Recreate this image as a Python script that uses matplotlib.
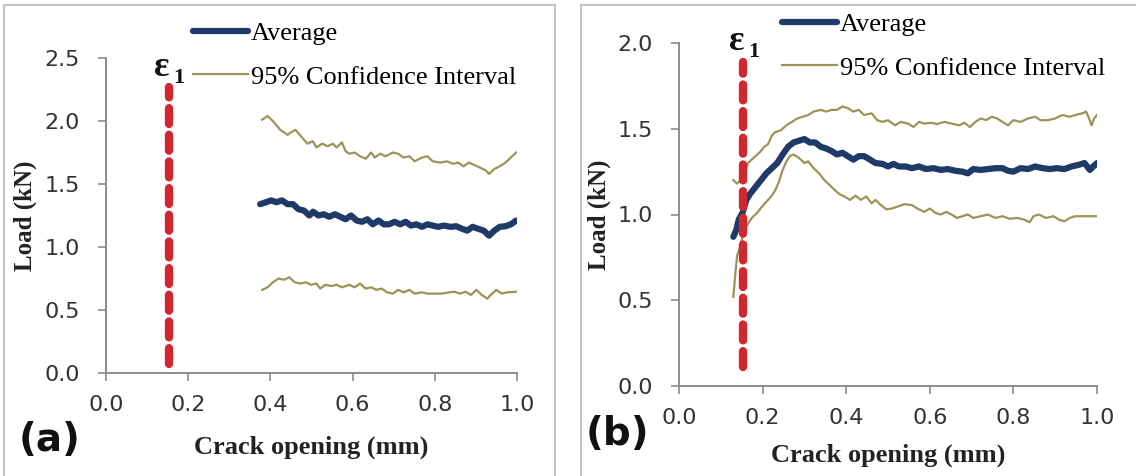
import matplotlib.pyplot as plt
from matplotlib.patches import Rectangle

# ---- Panel (a) data ----
a_avg_x = [0.375, 0.389, 0.402, 0.415, 0.428, 0.442, 0.455, 0.468, 0.481, 0.495, 0.504, 0.517, 0.53, 0.543,
           0.557, 0.57, 0.583, 0.596, 0.61, 0.623, 0.636, 0.649, 0.663, 0.676, 0.689, 0.702, 0.716, 0.729,
           0.742, 0.755, 0.769, 0.782, 0.795, 0.808, 0.822, 0.839, 0.852, 0.866, 0.879, 0.892, 0.905, 0.919,
           0.932, 0.945, 0.958, 0.972, 0.985, 0.998]
a_avg_y = [1.34, 1.355, 1.37, 1.355, 1.37, 1.34, 1.34, 1.30, 1.29, 1.25, 1.28, 1.25, 1.26, 1.24,
           1.26, 1.24, 1.22, 1.25, 1.21, 1.20, 1.22, 1.18, 1.21, 1.18, 1.18, 1.20, 1.18, 1.20,
           1.17, 1.18, 1.16, 1.18, 1.17, 1.16, 1.17, 1.16, 1.165, 1.145, 1.13, 1.16, 1.145, 1.13,
           1.09, 1.13, 1.16, 1.165, 1.18, 1.21]

a_up_x = [0.38, 0.393, 0.406, 0.424, 0.442, 0.45, 0.461, 0.477, 0.49, 0.503, 0.512, 0.526, 0.539, 0.552,
          0.561, 0.574, 0.583, 0.592, 0.605, 0.618, 0.632, 0.645, 0.654, 0.667, 0.68, 0.698, 0.711, 0.724,
          0.738, 0.751, 0.769, 0.782, 0.795, 0.813, 0.83, 0.844, 0.857, 0.87, 0.883, 0.897, 0.91, 0.923,
          0.932, 0.945, 0.958, 0.972, 0.985, 0.998]
a_up_y = [2.01, 2.04, 2.0, 1.93, 1.89, 1.91, 1.93, 1.87, 1.82, 1.84, 1.79, 1.82, 1.80, 1.82,
          1.79, 1.83, 1.76, 1.74, 1.75, 1.72, 1.70, 1.75, 1.71, 1.74, 1.72, 1.75, 1.74, 1.71,
          1.72, 1.68, 1.71, 1.72, 1.68, 1.67, 1.68, 1.66, 1.67, 1.64, 1.67, 1.65, 1.63, 1.61,
          1.58, 1.62, 1.64, 1.67, 1.71, 1.75]

a_lo_x = [0.38, 0.393, 0.406, 0.42, 0.433, 0.446, 0.459, 0.473, 0.486, 0.499, 0.512, 0.521, 0.534, 0.548,
          0.561, 0.574, 0.592, 0.605, 0.618, 0.632, 0.645, 0.658, 0.671, 0.684, 0.698, 0.711, 0.724, 0.738,
          0.751, 0.769, 0.782, 0.799, 0.817, 0.835, 0.848, 0.861, 0.875, 0.888, 0.901, 0.914, 0.928, 0.936,
          0.95, 0.963, 0.976, 0.998]
a_lo_y = [0.66, 0.68, 0.72, 0.75, 0.74, 0.76, 0.72, 0.71, 0.72, 0.70, 0.71, 0.67, 0.70, 0.69,
          0.70, 0.68, 0.70, 0.68, 0.71, 0.67, 0.68, 0.66, 0.67, 0.64, 0.63, 0.66, 0.64, 0.66,
          0.63, 0.64, 0.63, 0.63, 0.63, 0.64, 0.645, 0.63, 0.645, 0.62, 0.66, 0.62, 0.59, 0.62,
          0.66, 0.63, 0.64, 0.645]

# ---- Panel (b) data ----
b_avg_x = [0.13, 0.137, 0.143, 0.152, 0.161, 0.17, 0.183, 0.196, 0.209, 0.222, 0.235, 0.248, 0.261, 0.274,
           0.287, 0.3, 0.313, 0.326, 0.339, 0.352, 0.365, 0.378, 0.391, 0.404, 0.417, 0.43, 0.443, 0.457,
           0.47, 0.487, 0.5, 0.513, 0.526, 0.543, 0.557, 0.574, 0.591, 0.609, 0.626, 0.643, 0.661, 0.678,
           0.691, 0.704, 0.722, 0.739, 0.757, 0.774, 0.787, 0.8, 0.817, 0.835, 0.852, 0.87, 0.887, 0.904,
           0.922, 0.939, 0.957, 0.97, 0.983, 0.991, 1.0]
b_avg_y = [0.87, 0.91, 0.97, 1.01, 1.085, 1.12, 1.16, 1.20, 1.24, 1.27, 1.30, 1.35, 1.395, 1.42,
           1.43, 1.44, 1.42, 1.42, 1.395, 1.385, 1.37, 1.35, 1.36, 1.34, 1.32, 1.34, 1.34, 1.32,
           1.30, 1.295, 1.28, 1.295, 1.28, 1.28, 1.27, 1.28, 1.265, 1.27, 1.26, 1.265, 1.255, 1.25,
           1.24, 1.265, 1.26, 1.265, 1.27, 1.27, 1.255, 1.25, 1.27, 1.265, 1.28, 1.27, 1.265, 1.27,
           1.265, 1.28, 1.29, 1.30, 1.26, 1.28, 1.30]

b_up_x = [0.13, 0.139, 0.148, 0.157, 0.165, 0.174, 0.183, 0.196, 0.204, 0.213, 0.222, 0.23, 0.243, 0.257,
          0.27, 0.283, 0.296, 0.309, 0.322, 0.339, 0.352, 0.365, 0.378, 0.391, 0.404, 0.417, 0.43, 0.443,
          0.461, 0.474, 0.487, 0.5, 0.517, 0.53, 0.548, 0.561, 0.574, 0.587, 0.604, 0.617, 0.635, 0.652,
          0.67, 0.683, 0.696, 0.709, 0.722, 0.735, 0.748, 0.761, 0.774, 0.787, 0.8, 0.817, 0.835, 0.852,
          0.865, 0.883, 0.9, 0.917, 0.935, 0.948, 0.965, 0.974, 0.981, 0.987, 0.993, 1.0]
b_up_y = [1.20, 1.18, 1.20, 1.24, 1.30, 1.32, 1.34, 1.37, 1.395, 1.41, 1.46, 1.48, 1.49, 1.52,
          1.54, 1.56, 1.57, 1.58, 1.60, 1.61, 1.60, 1.61, 1.61, 1.63, 1.62, 1.60, 1.61, 1.58,
          1.59, 1.55, 1.54, 1.55, 1.52, 1.54, 1.53, 1.51, 1.54, 1.53, 1.535, 1.527, 1.54, 1.53,
          1.52, 1.535, 1.51, 1.54, 1.56, 1.55, 1.57, 1.56, 1.54, 1.52, 1.55, 1.54, 1.56, 1.57,
          1.55, 1.55, 1.56, 1.58, 1.57, 1.58, 1.59, 1.60, 1.56, 1.52, 1.56, 1.58]

b_lo_x = [0.13, 0.135, 0.139, 0.146, 0.152, 0.161, 0.174, 0.187, 0.2, 0.213, 0.222, 0.23, 0.239, 0.248,
          0.257, 0.265, 0.274, 0.287, 0.3, 0.309, 0.322, 0.335, 0.348, 0.361, 0.374, 0.383, 0.396, 0.409,
          0.422, 0.435, 0.448, 0.461, 0.47, 0.483, 0.496, 0.509, 0.522, 0.539, 0.557, 0.57, 0.587, 0.6,
          0.613, 0.626, 0.639, 0.652, 0.665, 0.678, 0.691, 0.704, 0.722, 0.739, 0.757, 0.774, 0.791, 0.809,
          0.826, 0.839, 0.848, 0.861, 0.878, 0.896, 0.909, 0.922, 0.935, 0.948, 0.965, 0.983, 1.0]
b_lo_y = [0.52, 0.66, 0.76, 0.81, 0.87, 0.93, 0.98, 1.01, 1.05, 1.085, 1.11, 1.14, 1.19, 1.26,
          1.31, 1.34, 1.35, 1.33, 1.30, 1.31, 1.27, 1.24, 1.20, 1.17, 1.14, 1.12, 1.105, 1.085,
          1.11, 1.085, 1.105, 1.065, 1.085, 1.055, 1.03, 1.035, 1.045, 1.06, 1.055, 1.035, 1.015, 1.035,
          1.01, 1.0, 1.015, 1.0, 0.98, 0.99, 1.0, 0.98, 0.99, 1.0, 0.98, 0.99, 0.975, 0.98,
          0.97, 0.955, 0.99, 1.0, 0.98, 0.99, 0.97, 0.96, 0.98, 0.99, 0.99, 0.99, 0.99]

# epsilon_1 marker: x position and vertical extent (kN)
a_eps_x, a_eps_y = 0.153, [0.07, 2.27]
b_eps_x, b_eps_y = 0.154, [0.11, 1.89]

x_ticks = [0.0, 0.2, 0.4, 0.6, 0.8, 1.0]
a_y_ticks = [0.0, 0.5, 1.0, 1.5, 2.0, 2.5]
b_y_ticks = [0.0, 0.5, 1.0, 1.5, 2.0]

NAVY = '#1f3a68'
OLIVE = '#9d9357'
RED = '#d0282e'
GRAY = '#8c8c8c'
SERIF = 'Liberation Serif'

W, H = 1136, 476
fig = plt.figure(figsize=(W / 100, H / 100), dpi=100)


def px_axes(left, right, top, bottom):
    return fig.add_axes([left / W, 1 - bottom / H, (right - left) / W, (bottom - top) / H])


def draw_panel(ax, avg, up, lo, eps_x, eps_y, yticks, xlab_y, ylab_x):
    ax.plot(up[0], up[1], color=OLIVE, lw=1.6, label='95% Confidence Interval')
    ax.plot(lo[0], lo[1], color=OLIVE, lw=1.6, label='_nolegend_')
    ax.plot(avg[0], avg[1], color=NAVY, lw=4.5, label='Average', solid_capstyle='round')
    ax.plot([eps_x, eps_x], eps_y, color=RED, lw=6, dashes=(1.9, 1.3),
            dash_capstyle='round', zorder=5, clip_on=False)

    ax.set_xlim(0, 1)
    ax.set_ylim(0, yticks[-1])
    ax.set_xticks(x_ticks)
    ax.set_yticks(yticks)
    ax.set_xticklabels([f'{t:.1f}' for t in x_ticks])
    ax.set_yticklabels([f'{t:.1f}' for t in yticks])
    for s in ['top', 'right']:
        ax.spines[s].set_visible(False)
    for s in ['left', 'bottom']:
        ax.spines[s].set_color(GRAY)
        ax.spines[s].set_linewidth(1.4)
    ax.tick_params(axis='both', direction='out', length=6, width=1.2, color=GRAY,
                   labelsize=16, labelcolor='#333333')
    ax.tick_params(axis='x', pad=10)
    ax.tick_params(axis='y', pad=13)

    ax.set_xlabel('Crack opening (mm)', fontfamily=SERIF, fontweight='bold', fontsize=19,
                  color='#222222', va='center')
    ax.xaxis.set_label_coords(0.5, xlab_y)
    ax.set_ylabel('Load (kN)', fontfamily=SERIF, fontweight='bold', fontsize=18,
                  color='#222222', va='center')
    ax.yaxis.set_label_coords(ylab_x, 0.5)


# Panel (a)
ax_a = px_axes(106, 517, 58, 373)
draw_panel(ax_a, (a_avg_x, a_avg_y), (a_up_x, a_up_y), (a_lo_x, a_lo_y),
           a_eps_x, a_eps_y, a_y_ticks, (373 - 447) / 315, (25 - 106) / 411)

# Panel (b)
ax_b = px_axes(679, 1097, 43, 386)
draw_panel(ax_b, (b_avg_x, b_avg_y), (b_up_x, b_up_y), (b_lo_x, b_lo_y),
           b_eps_x, b_eps_y, b_y_ticks, (386 - 455) / 343, (599 - 679) / 418)

# Legends, placed in figure pixels like the original
for ax, lx, ly in [(ax_a, 193, 22), (ax_b, 782, 13)]:
    h, l = ax.get_legend_handles_labels()
    order = [l.index('Average'), l.index('95% Confidence Interval')]
    ax.legend([h[i] for i in order], [l[i] for i in order], loc='upper left',
              bbox_to_anchor=(lx / W, 1 - ly / H), bbox_transform=fig.transFigure,
              frameon=False, borderpad=0, borderaxespad=0, handlelength=2.1,
              handletextpad=0.08, labelspacing=0.75,
              prop={'family': SERIF, 'size': 19})

# epsilon_1 labels
for ex, ey in [(162, 68), (737, 42)]:
    fig.text(ex / W, 1 - ey / H, 'ε', fontfamily=SERIF, fontweight='bold', fontsize=26,
             ha='center', va='center', color='#111111')
    fig.text((ex + 17) / W, 1 - (ey + 10) / H, '1', fontfamily=SERIF, fontweight='bold',
             fontsize=16, ha='center', va='center', color='#111111')

# Panel labels
fig.text(50 / W, 1 - 440 / H, '(a)', fontweight='bold', fontsize=28, ha='center', va='center',
         color='#111111')
fig.text(617 / W, 1 - 434 / H, '(b)', fontweight='bold', fontsize=28, ha='center', va='center',
         color='#111111')

# Light grey frames round each panel
fig.add_artist(Rectangle((4 / W, -0.05), 551 / W, 1.05 - 5 / H, transform=fig.transFigure,
                         fill=False, edgecolor='#c4c4c4', lw=1.5))
fig.add_artist(Rectangle((581 / W, -0.05), 0.6, 1.05 - 5 / H, transform=fig.transFigure,
                         fill=False, edgecolor='#c4c4c4', lw=1.5))

fig.savefig('out.png', dpi=100)
